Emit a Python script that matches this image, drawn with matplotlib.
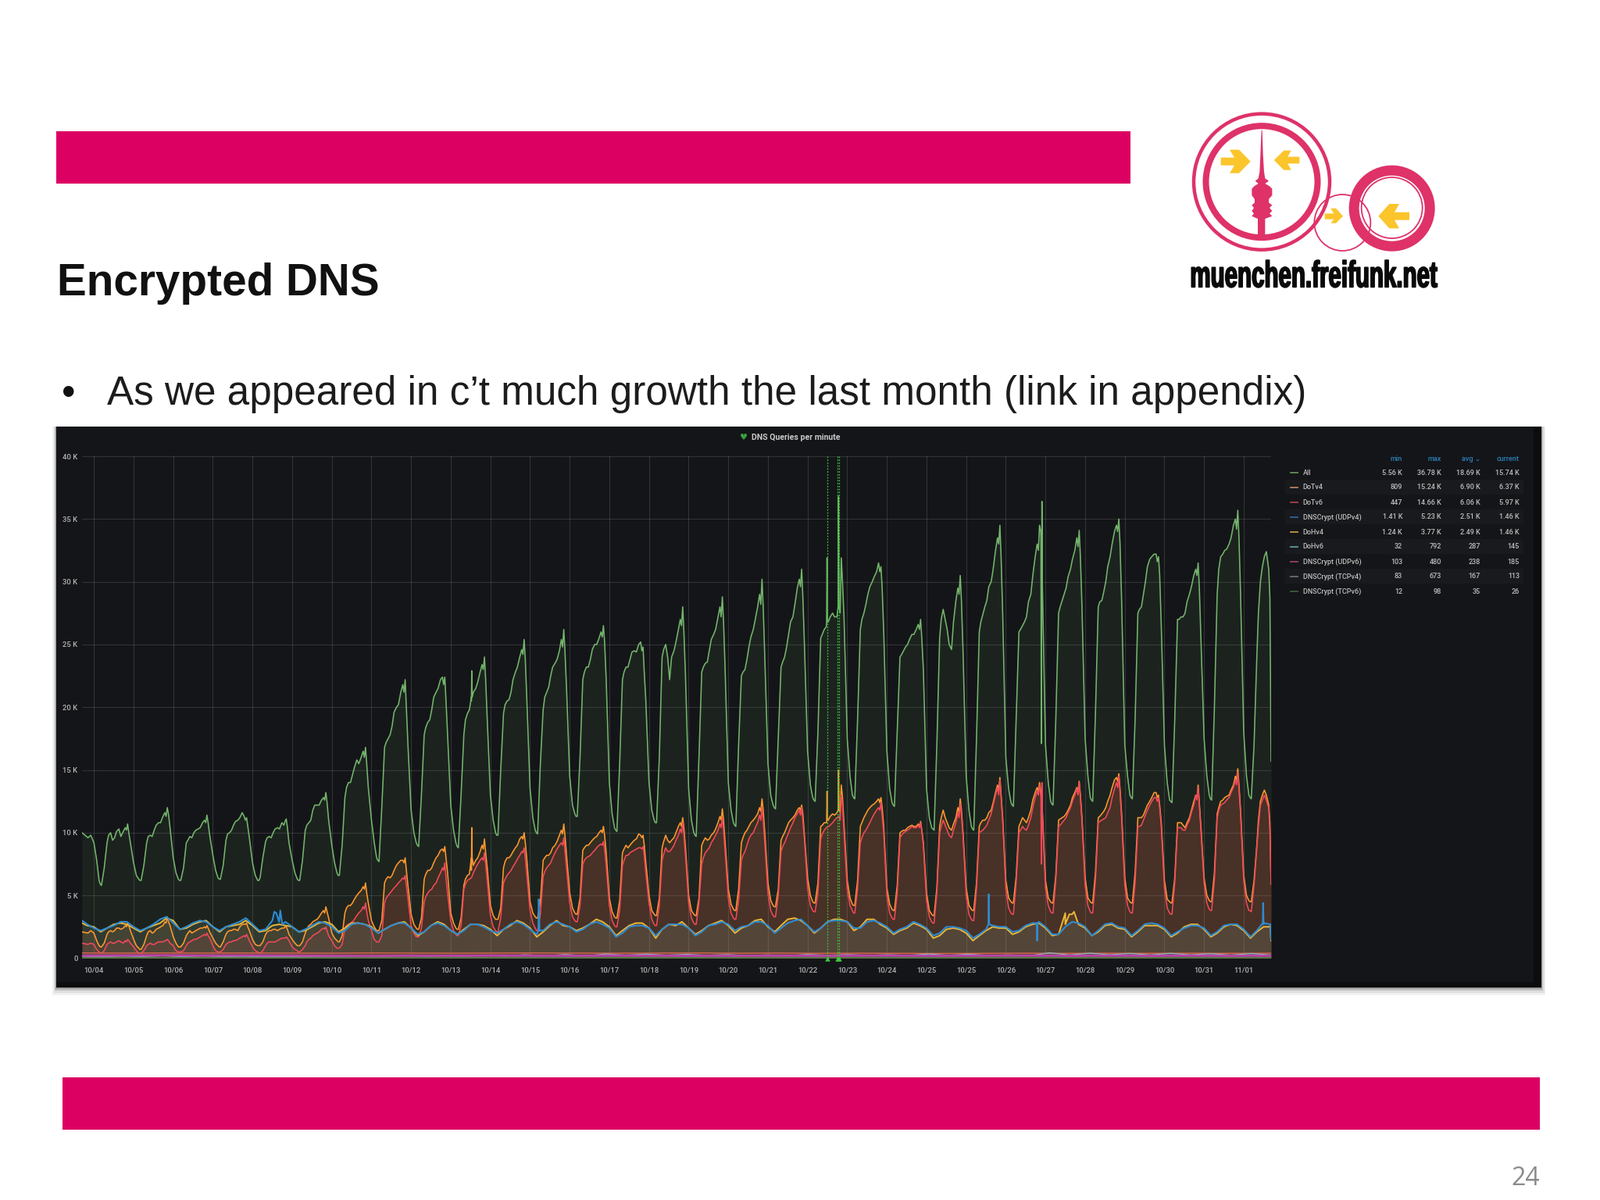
import numpy as np
import matplotlib
matplotlib.use('Agg')
import matplotlib.pyplot as plt
from matplotlib.patches import Rectangle, Circle, Polygon
from matplotlib.patheffects import AbstractPathEffect
from matplotlib.transforms import Affine2D

# Slide mit Grafana-Screenshot "DNS Queries per minute"
W, H = 2048, 1536
PINK = '#DC0062'
LOGO = '#DE3269'
GELB = '#FBC52B'

day_labels = ['10/04', '10/05', '10/06', '10/07', '10/08', '10/09', '10/10', '10/11', '10/12', '10/13',
              '10/14', '10/15', '10/16', '10/17', '10/18', '10/19', '10/20', '10/21', '10/22', '10/23',
              '10/24', '10/25', '10/25', '10/26', '10/27', '10/28', '10/29', '10/30', '10/31', '11/01']
y_ticks = [0, 5, 10, 15, 20, 25, 30, 35, 40]
y_labels = ['0', '5 K', '10 K', '15 K', '20 K', '25 K', '30 K', '35 K', '40 K']

# Tagesraster (Anteil vom Tag), Werte in Hunderter Queries
offs_main = [0.00, 0.07, 0.13, 0.19, 0.26, 0.33, 0.42, 0.52, 0.63, 0.74, 0.85, 0.92]
offs_mid = [0.16, 0.37, 0.47, 0.57, 0.68, 0.79, 0.82, 0.88]
offs_base = [0.00, 0.17, 0.33, 0.50, 0.67, 0.83]

all_days = [
    [92, 78, 62, 58, 72, 92, 100, 96, 103, 101, 107, 92],
    [76, 66, 63, 62, 74, 92, 98, 102, 108, 113, 120, 104],
    [80, 68, 63, 62, 72, 92, 97, 100, 103, 108, 114, 98],
    [82, 70, 64, 63, 74, 94, 100, 106, 110, 116, 112, 96],
    [76, 66, 62, 64, 80, 93, 97, 100, 104, 108, 111, 92],
    [78, 68, 63, 62, 78, 102, 108, 118, 122, 126, 132, 110],
    [90, 76, 68, 66, 90, 128, 140, 146, 158, 160, 168, 136],
    [110, 92, 80, 77, 120, 168, 175, 185, 200, 212, 222, 170],
    [118, 100, 92, 89, 130, 178, 188, 198, 212, 222, 224, 178],
    [122, 102, 92, 88, 130, 178, 195, 205, 215, 228, 240, 190],
    [130, 110, 100, 98, 150, 195, 205, 212, 228, 240, 254, 205],
    [135, 112, 102, 99, 155, 198, 212, 225, 235, 245, 262, 215],
    [145, 122, 115, 113, 160, 222, 232, 238, 250, 255, 265, 222],
    [140, 115, 104, 101, 155, 222, 232, 238, 245, 250, 248, 205],
    [140, 118, 110, 108, 160, 240, 250, 222, 245, 262, 280, 225],
    [135, 110, 100, 97, 160, 228, 235, 245, 258, 272, 288, 230],
    [140, 118, 108, 105, 170, 225, 230, 248, 262, 280, 302, 240],
    [155, 130, 122, 119, 175, 232, 240, 258, 272, 295, 310, 250],
    [165, 138, 128, 125, 180, 255, 262, 268, 275, 272, 319, 270],
    [175, 145, 130, 127, 190, 262, 275, 290, 300, 308, 312, 260],
    [165, 135, 124, 121, 180, 240, 245, 250, 258, 262, 270, 230],
    [135, 112, 104, 102, 170, 255, 278, 262, 246, 285, 305, 245],
    [145, 118, 105, 102, 175, 260, 274, 285, 300, 325, 345, 275],
    [160, 135, 124, 121, 190, 260, 265, 272, 290, 320, 345, 300],
    [170, 140, 125, 122, 190, 275, 285, 295, 310, 325, 341, 280],
    [175, 145, 128, 125, 195, 280, 285, 300, 320, 340, 350, 285],
    [170, 145, 130, 127, 190, 275, 280, 300, 318, 322, 320, 265],
    [170, 140, 126, 124, 190, 270, 272, 275, 290, 305, 315, 255],
    [175, 145, 130, 126, 200, 290, 320, 325, 330, 345, 357, 290],
    [180, 145, 130, 127, 170, 240, 300, 320, 310],
]
all_mid = [
    [59, 98, 94, 101, 97, 104, 102, 100], [62, 97, 97, 106, 108, 116, 113, 115], [62, 94, 96, 102, 104, 110, 108, 108],
    [63, 99, 102, 109, 112, 113, 110, 105], [62, 96, 96, 103, 103, 106, 109, 104], [62, 106, 110, 122, 122, 128, 126, 124],
    [66, 136, 140, 152, 155, 165, 160, 155], [78, 172, 178, 196, 202, 218, 212, 200], [90, 184, 190, 208, 215, 224, 218, 205],
    [89, 190, 198, 212, 220, 234, 230, 222], [98, 202, 206, 222, 232, 246, 242, 238], [100, 208, 216, 232, 238, 254, 248, 245],
    [113, 228, 232, 246, 250, 260, 256, 252], [102, 228, 232, 244, 244, 252, 245, 228], [108, 246, 240, 240, 252, 270, 265, 260],
    [98, 232, 236, 254, 262, 280, 272, 268], [106, 228, 238, 256, 270, 290, 282, 280], [120, 236, 248, 268, 282, 302, 296, 288],
    [126, 258, 264, 272, 272, 280, 275, 300], [128, 270, 282, 296, 304, 315, 308, 295], [122, 242, 248, 254, 258, 266, 262, 255],
    [103, 270, 270, 250, 268, 295, 290, 285], [103, 268, 280, 296, 310, 335, 330, 320], [122, 262, 268, 284, 305, 330, 325, 340],
    [123, 280, 290, 304, 318, 335, 328, 320], [126, 284, 292, 312, 330, 345, 340, 330], [128, 278, 290, 312, 320, 322, 316, 305],
    [125, 270, 272, 284, 296, 310, 305, 295], [127, 310, 322, 326, 335, 350, 342, 335], [128, 275, 312, 324],
]
all_extra_t = [-0.30, -0.15, -0.08, 9.52, 9.53, 9.54, 18.48, 18.49, 18.50, 18.77, 18.78, 18.79, 23.885, 23.895, 23.91, 29.66, 29.69]
all_extra_v = [100, 96, 98, 208, 229, 208, 268, 319, 268, 280, 368, 300, 335, 171, 364, 287, 157]

dotv4_days = [
    [20, 14, 10, 9, 12, 19, 22, 22, 24, 24, 28, 22],
    [15, 10, 8, 7, 11, 18, 22, 21, 24, 26, 33, 26],
    [17, 12, 9, 9, 12, 18, 22, 21, 23, 24, 26, 21],
    [16, 12, 10, 9, 13, 19, 22, 23, 22, 27, 28, 22],
    [15, 11, 10, 10, 13, 19, 22, 23, 22, 24, 25, 19],
    [15, 12, 10, 10, 13, 20, 26, 29, 31, 36, 41, 32],
    [20, 16, 14, 13, 18, 36, 42, 44, 50, 54, 60, 44],
    [30, 25, 22, 22, 30, 60, 65, 66, 74, 78, 80, 58],
    [35, 27, 24, 23, 32, 63, 70, 72, 80, 86, 89, 68],
    [36, 28, 24, 23, 32, 58, 66, 70, 78, 85, 95, 72],
    [42, 34, 31, 31, 40, 72, 80, 82, 88, 95, 100, 78],
    [45, 36, 33, 32, 45, 78, 82, 84, 90, 98, 107, 82],
    [52, 40, 36, 35, 48, 86, 90, 92, 96, 100, 105, 84],
    [48, 37, 33, 32, 46, 84, 90, 90, 94, 99, 98, 76],
    [50, 38, 35, 34, 48, 88, 98, 92, 96, 105, 112, 88],
    [50, 38, 35, 34, 48, 90, 96, 95, 100, 108, 119, 92],
    [55, 43, 39, 38, 55, 92, 100, 105, 110, 115, 127, 100],
    [60, 46, 42, 41, 55, 94, 100, 108, 112, 118, 122, 98],
    [64, 50, 45, 44, 60, 105, 108, 110, 115, 116, 138, 106],
    [62, 48, 43, 42, 62, 105, 112, 118, 122, 125, 128, 105],
    [56, 43, 39, 38, 58, 100, 102, 104, 106, 105, 109, 92],
    [52, 38, 35, 34, 56, 105, 118, 108, 102, 112, 127, 100],
    [56, 42, 39, 38, 60, 105, 110, 112, 118, 132, 144, 112],
    [62, 48, 45, 44, 65, 105, 112, 108, 118, 132, 140, 118],
    [62, 48, 45, 44, 66, 110, 112, 115, 122, 132, 141, 112],
    [64, 48, 45, 44, 68, 112, 115, 120, 130, 142, 147, 115],
    [64, 48, 45, 44, 68, 112, 112, 118, 125, 132, 130, 108],
    [62, 47, 45, 44, 64, 108, 108, 104, 112, 125, 138, 105],
    [64, 50, 46, 45, 68, 115, 125, 128, 130, 138, 151, 118],
    [66, 50, 46, 45, 62, 90, 125, 134, 122],
]
dotv4_mid = [
    [9, 21, 21, 24, 23, 26, 25, 26], [7, 21, 20, 23, 25, 29, 28, 29], [9, 20, 20, 22, 24, 25, 24, 24],
    [9, 21, 22, 23, 25, 27, 27, 25], [10, 21, 22, 23, 23, 24, 25, 23], [10, 23, 27, 30, 33, 38, 36, 37],
    [13, 40, 42, 47, 52, 57, 55, 52], [22, 63, 64, 70, 76, 78, 76, 70], [23, 67, 70, 76, 82, 87, 85, 80],
    [23, 63, 67, 74, 80, 90, 87, 84], [31, 77, 80, 85, 90, 97, 95, 92], [32, 80, 82, 88, 93, 102, 99, 98],
    [35, 88, 90, 94, 97, 102, 100, 98], [32, 87, 88, 92, 95, 98, 96, 90], [34, 93, 94, 94, 100, 108, 105, 104],
    [34, 93, 94, 98, 103, 113, 110, 110], [38, 96, 102, 108, 112, 120, 117, 118], [41, 97, 104, 110, 114, 120, 118, 115],
    [44, 106, 108, 113, 114, 118, 116, 128], [42, 108, 115, 120, 123, 127, 124, 120], [38, 101, 102, 105, 105, 107, 105, 102],
    [34, 112, 112, 104, 107, 120, 116, 118], [38, 108, 110, 116, 124, 138, 133, 130], [44, 108, 110, 112, 126, 136, 133, 134],
    [44, 111, 113, 118, 128, 136, 133, 130], [44, 113, 117, 125, 136, 144, 141, 135], [44, 112, 114, 122, 128, 132, 128, 122],
    [44, 108, 106, 108, 118, 130, 127, 124], [45, 120, 126, 129, 134, 145, 142, 138], [45, 110, 130, 130],
]
dotv4_extra_t = [-0.30, -0.15, -0.08, 9.52, 9.53, 9.54, 18.48, 18.49, 18.50, 18.77, 18.78, 18.79, 29.66, 29.69]
dotv4_extra_v = [21, 20, 22, 80, 104, 80, 108, 133, 110, 118, 150, 125, 108, 59]

dotv6_days = [
    [11, 7, 5, 4, 6, 11, 13, 12, 14, 12, 15, 12],
    [9, 6, 4, 4, 6, 10, 12, 11, 13, 13, 15, 12],
    [10, 6, 5, 5, 6, 10, 13, 15, 16, 18, 20, 16],
    [10, 6, 5, 5, 7, 11, 13, 14, 15, 17, 19, 14],
    [9, 6, 5, 4, 6, 10, 13, 13, 14, 16, 17, 14],
    [9, 7, 6, 5, 7, 10, 15, 18, 20, 23, 25, 18],
    [14, 10, 8, 8, 11, 24, 27, 29, 34, 38, 44, 30],
    [22, 15, 13, 13, 18, 44, 50, 54, 58, 62, 66, 48],
    [26, 20, 17, 17, 24, 45, 52, 55, 60, 68, 76, 52],
    [30, 22, 19, 18, 26, 55, 62, 64, 72, 78, 84, 62],
    [34, 25, 22, 21, 32, 60, 66, 70, 76, 82, 88, 66],
    [38, 28, 24, 22, 35, 65, 72, 76, 84, 90, 96, 72],
    [44, 33, 30, 29, 42, 75, 80, 82, 86, 90, 93, 74],
    [42, 30, 26, 25, 38, 74, 82, 84, 86, 88, 89, 68],
    [44, 31, 27, 26, 42, 78, 88, 85, 90, 98, 108, 82],
    [44, 32, 28, 27, 44, 75, 84, 88, 95, 102, 112, 85],
    [48, 36, 32, 31, 46, 78, 85, 95, 100, 108, 120, 92],
    [52, 38, 34, 33, 50, 85, 92, 100, 108, 115, 120, 95],
    [56, 42, 38, 37, 52, 95, 102, 105, 108, 112, 130, 100],
    [55, 42, 38, 36, 55, 92, 100, 105, 112, 118, 124, 100],
    [50, 36, 32, 31, 52, 96, 100, 102, 105, 104, 108, 90],
    [46, 33, 29, 28, 52, 100, 110, 102, 96, 108, 123, 98],
    [50, 35, 31, 30, 55, 100, 102, 106, 115, 130, 142, 110],
    [55, 40, 36, 35, 60, 100, 105, 102, 112, 128, 138, 115],
    [56, 42, 37, 36, 62, 105, 108, 112, 120, 130, 140, 110],
    [58, 42, 37, 36, 62, 108, 110, 112, 120, 135, 145, 112],
    [58, 42, 37, 36, 60, 105, 106, 114, 122, 128, 128, 105],
    [56, 40, 36, 35, 60, 104, 104, 102, 110, 122, 136, 102],
    [60, 44, 39, 38, 62, 112, 122, 124, 128, 136, 148, 115],
    [62, 44, 38, 37, 58, 88, 122, 130, 120],
]
dotv6_mid = [
    [4, 12, 12, 13, 13, 14, 13, 14], [4, 11, 11, 12, 13, 14, 14, 14], [5, 12, 14, 15, 17, 19, 18, 18],
    [5, 12, 13, 14, 16, 18, 17, 17], [4, 12, 13, 13, 15, 16, 16, 16], [5, 13, 16, 19, 21, 24, 23, 22],
    [8, 26, 28, 31, 36, 41, 39, 37], [13, 48, 52, 56, 60, 64, 63, 58], [17, 49, 54, 58, 64, 72, 70, 64],
    [18, 59, 63, 68, 75, 80, 78, 75], [21, 63, 68, 73, 79, 85, 84, 80], [22, 69, 74, 80, 87, 92, 90, 86],
    [29, 78, 81, 84, 88, 91, 90, 87], [25, 78, 82, 85, 87, 88, 87, 82], [26, 83, 85, 87, 94, 103, 100, 98],
    [27, 80, 86, 92, 98, 107, 104, 102], [31, 82, 90, 98, 104, 114, 110, 110], [33, 89, 96, 104, 112, 118, 114, 110],
    [37, 99, 104, 106, 110, 113, 110, 122], [36, 96, 102, 108, 115, 120, 118, 114], [31, 98, 101, 103, 104, 106, 104, 102],
    [28, 105, 106, 98, 102, 116, 112, 114], [30, 101, 104, 110, 122, 136, 130, 128], [35, 102, 103, 106, 120, 133, 130, 130],
    [36, 106, 110, 116, 125, 135, 130, 128], [36, 109, 111, 116, 128, 140, 136, 132], [36, 105, 110, 118, 125, 128, 125, 120],
    [35, 104, 102, 106, 116, 130, 126, 122], [38, 118, 123, 126, 132, 142, 138, 135], [38, 105, 126, 126],
]
dotv6_extra_t = [-0.30, -0.15, -0.08, 23.885, 23.895, 23.91, 29.66, 29.69]
dotv6_extra_v = [12, 11, 12, 130, 75, 140, 102, 59]

udpv4_days = [
    [24, 22, 24, 26, 29, 29], [25, 22, 24, 27, 31, 33], [28, 23, 25, 28, 30, 29], [25, 22, 25, 27, 29, 32],
    [27, 22, 23, 30, 29, 29], [25, 21, 23, 26, 29, 28], [25, 20, 22, 27, 28, 27], [24, 20, 23, 26, 28, 28],
    [24, 19, 21, 26, 28, 26], [22, 19, 22, 27, 27, 25], [22, 20, 23, 27, 29, 27], [23, 19, 22, 27, 29, 27],
    [25, 21, 23, 27, 29, 27], [24, 17, 20, 25, 26, 26], [24, 18, 23, 27, 27, 27], [24, 18, 21, 26, 27, 29],
    [27, 22, 25, 26, 29, 29], [26, 20, 24, 28, 30, 31], [26, 21, 24, 29, 30, 30], [29, 24, 24, 29, 30, 28],
    [25, 20, 23, 25, 29, 27], [24, 18, 20, 25, 25, 24], [22, 16, 19, 23, 26, 25], [25, 21, 22, 26, 28, 29],
    [25, 19, 19, 25, 29, 28], [25, 18, 22, 27, 28, 25], [24, 18, 22, 27, 28, 27], [24, 18, 21, 24, 26, 26],
    [24, 18, 21, 26, 27, 27], [23, 17, 22, 27, 27],
]
udpv4_extra_t = [-0.30, -0.17, 4.55, 4.60, 4.70, 4.75, 11.21, 11.22, 11.24, 22.56, 22.57, 22.58, 23.78, 23.79, 23.80, 29.48, 29.49, 29.51, 29.66, 29.69]
udpv4_extra_v = [30, 27, 37, 36, 38, 27, 22, 47, 22, 27, 51, 27, 28, 14, 28, 28, 44, 28, 27, 15]

dohv4_days = [
    [25, 21, 24, 27, 28, 27], [24, 21, 24, 26, 28, 32], [30, 23, 24, 27, 29, 30], [25, 21, 25, 26, 27, 30],
    [26, 21, 22, 26, 27, 26], [25, 21, 22, 25, 28, 29], [27, 21, 24, 28, 28, 27], [25, 20, 23, 26, 28, 29],
    [24, 18, 21, 26, 29, 27], [22, 19, 23, 27, 27, 26], [23, 18, 23, 26, 30, 28], [24, 17, 21, 26, 30, 26],
    [25, 22, 24, 27, 31, 29], [25, 18, 22, 26, 28, 28], [24, 16, 23, 27, 26, 29], [24, 19, 22, 26, 28, 30],
    [26, 20, 24, 26, 30, 31], [25, 21, 26, 31, 32, 30], [26, 20, 24, 29, 31, 31], [29, 22, 25, 31, 31, 27],
    [24, 19, 22, 24, 28, 26], [23, 16, 18, 23, 24, 23], [20, 14, 18, 22, 25, 24], [24, 19, 21, 25, 27, 28],
    [24, 18, 19, 27, 35, 27], [24, 18, 21, 26, 27, 24], [23, 17, 21, 26, 26, 26], [23, 17, 20, 25, 27, 27],
    [23, 17, 20, 25, 27, 26], [22, 16, 21, 25, 26],
]
dohv4_extra_t = [-0.30, -0.17, 24.50, 24.60, 24.72, 29.66, 29.69]
dohv4_extra_v = [28, 26, 36, 35, 37, 25, 14]

# kleine Serien (Queries), DoHv6 zwei Werte pro Tag, sonst einer
dohv6 = [150, 110, 170, 130, 200, 120, 180, 120, 150, 100, 130, 110, 150, 130, 190, 140, 220, 160, 200, 170,
         230, 170, 280, 190, 300, 180, 340, 240, 330, 240, 310, 230, 290, 200, 260, 200, 300, 230, 290, 220,
         280, 220, 340, 230, 320, 220, 260, 190, 430, 260, 400, 280, 380, 260, 390, 270, 360, 250, 370, 260]
udpv6 = [420, 410, 420, 410, 420, 410, 400, 420, 410, 400, 410, 420, 410, 400, 410, 420,
         400, 410, 390, 400, 390, 380, 390, 400, 390, 400, 390, 400, 390, 400]
tcpv4 = [200, 220, 230, 210, 220, 210, 190, 180, 200, 190, 210, 200, 190, 210, 200, 190,
         190, 200, 190, 210, 200, 190, 200, 210, 190, 200, 190, 200, 190, 200]
tcpv6 = [30, 28, 32, 30, 28, 30, 32, 30, 34, 36, 35, 34, 38, 36, 35, 36, 35, 38, 36, 37,
         35, 34, 36, 38, 36, 35, 36, 34, 36, 35]

annotation_days = [18.49, 18.76, 18.80]

# Legendentabelle
legend_names = ['All', 'DoTv4', 'DoTv6', 'DNSCrypt (UDPv4)', 'DoHv4', 'DoHv6', 'DNSCrypt (UDPv6)', 'DNSCrypt (TCPv4)', 'DNSCrypt (TCPv6)']
legend_min = ['5.56 K', '809', '447', '1.41 K', '1.24 K', '32', '103', '83', '12']
legend_max = ['36.78 K', '15.24 K', '14.66 K', '5.23 K', '3.77 K', '792', '480', '673', '98']
legend_avg = ['18.69 K', '6.90 K', '6.06 K', '2.51 K', '2.49 K', '287', '238', '167', '35']
legend_cur = ['15.74 K', '6.37 K', '5.97 K', '1.46 K', '1.46 K', '145', '185', '113', '26']
legend_col = ['#5f8f5a', '#b5805f', '#a5404f', '#2f64a0', '#b99a45', '#5f9a9f', '#96405f', '#6f6a70', '#3f5a40']


def zeitreihe(rows, offs, extra_t, extra_v, mid=None):
    t = [d + o for d, row in enumerate(rows) for o in offs[:len(row)]]
    v = [x for row in rows for x in row]
    if mid is not None:
        t += [d + o for d, row in enumerate(mid) for o in offs_mid[:len(row)]]
        v += [x for row in mid for x in row]
    t = np.array(t + extra_t)
    v = np.array(v + extra_v) / 10.0
    i = np.argsort(t)
    return t[i], v[i]


class Schmal(AbstractPathEffect):
    # Schmalschrift des Logos: es gibt keine passende Condensed-Schrift
    def draw_path(self, renderer, gc, tpath, affine, rgbFace=None):
        gc.set_linewidth(1.3)
        gc.set_foreground('#0a0a0a')
        renderer.draw_path(gc, tpath, Affine2D().scale(0.625, 1.0) + affine, rgbFace)


fig = plt.figure(figsize=(W / 100, H / 100), dpi=100, facecolor='white')

# Hintergrund in Pixelkoordinaten
bg = fig.add_axes([0, 0, 1, 1])
bg.set_xlim(0, W)
bg.set_ylim(H, 0)
bg.axis('off')

bg.add_patch(Rectangle((72, 168), 1375, 67, color=PINK, lw=0))
bg.add_patch(Rectangle((80, 1379), 1891, 67, color=PINK, lw=0))
bg.text(73, 378, 'Encrypted DNS', family='Liberation Sans', weight='bold', fontsize=40.8, color='#111111', va='baseline')
bg.text(79, 518, '•', family='Liberation Sans', fontsize=36, color='#111111', va='baseline')
bg.text(137, 518, 'As we appeared in c’t much growth the last month (link in appendix)', family='Liberation Sans',
        fontsize=36.87, color='#1c1c1c', va='baseline')
bg.text(1953, 1517, '24', family='Open Sans', fontsize=23, color='#8a8a8a', ha='center', va='baseline')

# Schatten und Panel
for d, a in [(10, 0.05), (7, 0.08), (4, 0.12), (2, 0.18)]:
    bg.add_patch(Rectangle((72 - d / 2, 546), 1901 + d, 718 + d, color='black', alpha=a, lw=0))
bg.add_patch(Rectangle((72, 546), 1901, 718, color='#141518', lw=0))
bg.add_patch(Rectangle((72, 1257), 1901, 7, color='#0c0d0f', lw=0))
bg.add_patch(Rectangle((1963, 546), 10, 718, color='#0b0c0e', lw=0))

# Logo, Koordinaten aus dem Ausschnitt
def lx(x):
    return x / 3 + 1500

def ly(y):
    return y / 3 + 120

def lp(pts, col):
    bg.add_patch(Polygon([(lx(a), ly(b)) for a, b in pts], closed=True, color=col, lw=0))

def ring(cx, cy, r, w, col=LOGO):
    bg.add_patch(Circle((lx(cx), ly(cy)), r, fill=False, ec=col, lw=w * 0.72))

ring(345, 338, 87, 4.5)
ring(345, 338, 71.5, 8)
ring(845, 440, 48.5, 13)
ring(845, 438, 39, 1.8)
ring(655, 495, 36, 1.8)
lp([(188, 245), (240, 245), (222, 215), (258, 215), (302, 260), (258, 305), (222, 305), (240, 275), (188, 275)], GELB)
lp([(490, 242), (445, 242), (458, 218), (430, 218), (392, 255), (430, 293), (458, 293), (445, 268), (490, 268)], GELB)
lp([(587, 460), (622, 460), (610, 440), (630, 440), (657, 470), (630, 497), (610, 497), (622, 482), (587, 482)], GELB)
lp([(912, 455), (855, 455), (873, 423), (835, 423), (793, 470), (835, 517), (873, 517), (855, 485), (912, 485)], GELB)
lp([(344, 140), (347, 140), (350, 235), (354, 300), (358, 325), (372, 335), (358, 345), (375, 355), (385, 365), (385, 390),
    (372, 405), (372, 418), (385, 428), (375, 438), (385, 450), (375, 460), (385, 470), (358, 480), (358, 545), (330, 545),
    (330, 480), (307, 470), (315, 460), (307, 450), (315, 438), (307, 428), (318, 418), (318, 405), (307, 390), (307, 365),
    (316, 355), (332, 345), (320, 335), (332, 325), (337, 300), (340, 235)], LOGO)
logo_text = bg.text(lx(70), ly(742), 'muenchen.freifunk.net', family='Liberation Sans', weight='bold',
                    fontsize=34, color='#0a0a0a', ha='left', va='baseline')
logo_text.set_path_effects([Schmal()])

# Panelkopf
bg.text(952, 560, '♥', family='DejaVu Sans', fontsize=8, color='#37A03E', ha='center', va='center')
bg.text(1019, 560, 'DNS Queries per minute', family='Roboto', weight='bold', fontsize=7.6, color='#c8c8c8', ha='center', va='center')

# Diagramm
ax = fig.add_axes([105 / W, 1 - 1226.5 / H, (1627 - 105) / W, (1226.5 - 584) / H])
ax.set_facecolor('none')
ax.set_xlim(-0.30, 29.69)
ax.set_ylim(0, 40)
for s in ax.spines.values():
    s.set_visible(False)
ax.set_xticks(range(len(day_labels)))
ax.set_xticklabels(day_labels, family='Roboto', weight='medium', fontsize=6.8, color='#b4b4b4')
ax.set_yticks(y_ticks)
ax.set_yticklabels(y_labels, family='Roboto', weight='medium', fontsize=6.8, color='#b4b4b4')
ax.tick_params(axis='both', length=0)
ax.tick_params(axis='x', pad=8)
ax.tick_params(axis='y', pad=4)
ax.grid(True, color='white', alpha=0.13, lw=0.8)
ax.set_axisbelow(True)

series = [
    (zeitreihe(all_days, offs_main, all_extra_t, all_extra_v, all_mid), '#74B56C', 0.09, 1.15),
    (zeitreihe(dotv4_days, offs_main, dotv4_extra_t, dotv4_extra_v, dotv4_mid), '#FF9830', 0.11, 1.15),
    (zeitreihe(dotv6_days, offs_main, dotv6_extra_t, dotv6_extra_v, dotv6_mid), '#F2495C', 0.11, 1.15),
    (zeitreihe(dohv4_days, offs_base, dohv4_extra_t, dohv4_extra_v), '#EAB839', 0.10, 1.4),
    (zeitreihe(udpv4_days, offs_base, udpv4_extra_t, udpv4_extra_v), '#2F8BD0', 0.10, 1.5),
]
for (t, v), col, alpha, lw in series:
    ax.fill_between(t, 0, v, color=col, alpha=alpha, lw=0)
    ax.plot(t, v, color=col, lw=lw, solid_joinstyle='round')

for werte, col, lw in [(udpv6, '#D9644C', 1.0), (dohv6, '#8FB8C8', 0.9), (tcpv4, '#BA43A9', 2.0), (tcpv6, '#508642', 1.0)]:
    low_x = np.linspace(-0.30, 29.69, len(werte))
    wv = np.array(werte) / 1000.0
    ax.fill_between(low_x, 0, wv, color=col, alpha=0.1, lw=0)
    ax.plot(low_x, wv, color=col, lw=lw)

for d in annotation_days:
    ax.axvline(d, color='#3CC43C', lw=0.9, ls=(0, (1.5, 1.5)), zorder=6)
ax.scatter(annotation_days, [0.0] * len(annotation_days), marker='^', s=22, color='#3CC43C', lw=0,
           clip_on=False, zorder=7)

# Legendentabelle
spalten = [(1795, 'min', legend_min), (1845, 'max', legend_max), (1895, 'avg ⌄', legend_avg), (1945, 'current', legend_cur)]
for x, kopf, werte in spalten:
    bg.text(x, 587.7, kopf, family=['Roboto', 'DejaVu Sans'], weight='medium', fontsize=6.6, color='#2c7fb8', ha='right', va='center')
    for i, w in enumerate(werte):
        bg.text(x, 605 + 19 * i, w, family='Roboto', weight='medium', fontsize=6.5, color='#bdbdbd', ha='right', va='center')
for i, name in enumerate(legend_names):
    if i % 2 == 1:
        bg.add_patch(Rectangle((1645, 595 + 19 * i), 305, 19, color='#191a1d', lw=0))
    bg.plot([1652, 1661], [605 + 19 * i] * 2, color=legend_col[i], lw=1.3)
    bg.text(1667.7, 605 + 19 * i, name, family='Roboto', weight='medium', fontsize=6.5, color='#bdbdbd', va='center')

fig.savefig('out.png', dpi=100, facecolor='white')
